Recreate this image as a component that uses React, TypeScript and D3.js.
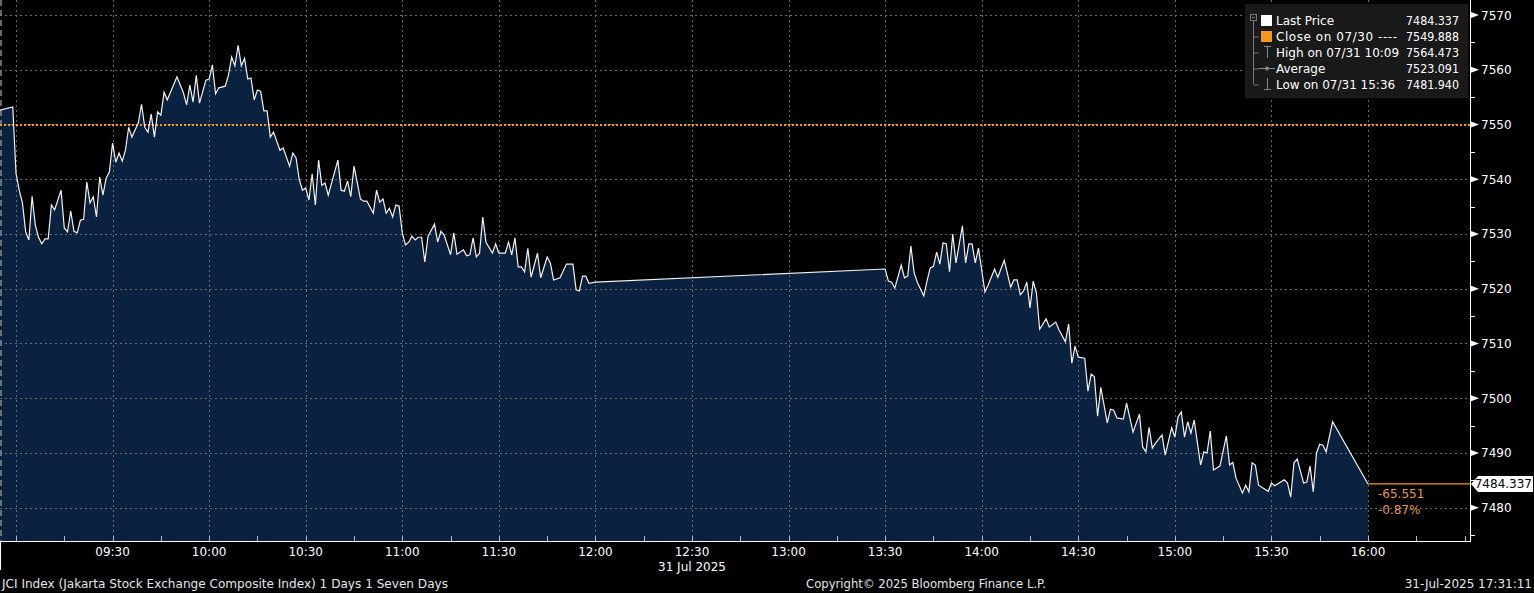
import React from "react";
import * as d3 from "d3";

// ---------- DATA ----------
const morningTimes = [
  "08:55","08:59","09:00","09:01","09:02","09:03","09:04","09:05","09:06","09:07","09:08","09:09","09:10","09:11","09:12","09:14","09:15","09:16","09:17","09:18","09:19","09:20","09:21","09:22","09:23","09:24","09:25","09:26","09:27","09:28","09:29",
  "09:30","09:31","09:32","09:33","09:34","09:35","09:36","09:38","09:39","09:40","09:41","09:42","09:43","09:44","09:45","09:46","09:47","09:50","09:52","09:53","09:54","09:55","09:56","09:57","09:59",
  "10:00","10:01","10:02","10:03","10:05","10:06","10:07","10:08","10:09","10:10","10:11","10:12","10:13","10:14","10:15","10:16","10:17","10:18","10:19","10:20","10:22","10:23","10:25","10:26","10:27","10:28","10:29",
  "10:30","10:31","10:32","10:33","10:34","10:35","10:36","10:37","10:40","10:41","10:42","10:43","10:44","10:45","10:47","10:48","10:49","10:51","10:52","10:53","10:54","10:55","10:56","10:57","10:58","10:59",
  "11:00","11:01","11:02","11:03","11:04","11:05","11:06","11:07","11:08","11:10","11:11","11:12","11:13","11:15","11:16","11:17","11:19","11:20","11:21","11:22","11:23","11:24","11:25","11:26","11:28","11:29",
  "11:30","11:32","11:33","11:34","11:35","11:36","11:37","11:38","11:39","11:40","11:42","11:43","11:45","11:46","11:47","11:49","11:51","11:53","11:54","11:55","11:56","11:57","11:58","12:00",
];
const morningPrices = [
  7552.6,7553.2,7541.1,7538.0,7535.7,7530.4,7528.9,7536.9,7531.6,7529.4,7528.2,7529.1,7529.1,7535.3,7534.4,7538.0,7531.1,7530.4,7534.2,7530.5,7530.2,7532.5,7532.7,7539.5,7535.7,7536.8,7533.1,7540.4,7537.1,7540.2,7541.3,
  7546.6,7543.1,7544.8,7543.3,7545.3,7549.5,7547.7,7550.3,7553.7,7549.5,7548.6,7551.9,7547.7,7552.3,7551.7,7555.9,7554.5,7558.7,7555.8,7553.6,7557.2,7554.1,7559.0,7553.9,7558.1,
  7558.3,7560.9,7555.6,7556.7,7557.0,7559.0,7562.3,7560.7,7564.473,7560.7,7562.1,7558.3,7558.5,7554.5,7556.3,7556.1,7552.5,7552.5,7547.7,7548.6,7545.3,7545.7,7542.4,7544.8,7543.9,7539.9,7538.0,
  7538.4,7536.2,7541.0,7535.3,7543.5,7538.9,7539.3,7537.1,7543.5,7538.0,7537.8,7539.7,7536.8,7542.4,7536.4,7536.0,7536.0,7533.8,7538.0,7535.8,7536.4,7533.8,7534.7,7533.1,7535.3,7535.1,
  7530.2,7528.0,7528.5,7529.6,7528.9,7529.4,7529.4,7524.9,7529.6,7531.8,7528.5,7530.5,7529.8,7526.2,7530.2,7526.3,7527.1,7526.0,7526.2,7529.3,7525.8,7526.5,7533.1,7528.5,7526.5,7528.2,
  7526.5,7526.5,7528.5,7526.2,7529.3,7524.0,7524.0,7523.1,7527.4,7522.1,7526.5,7522.0,7525.8,7524.7,7521.6,7522.0,7524.5,7524.5,7519.8,7519.6,7522.3,7522.3,7521.0,7521.2,
];
const afternoonTimes = [
  "13:30","13:31","13:32","13:33","13:35","13:36","13:37","13:38","13:39","13:40","13:42","13:43","13:44","13:45","13:46","13:47","13:48","13:49","13:50","13:51","13:52","13:54","13:55","13:56","13:57","13:58","13:59",
  "14:01","14:02","14:04","14:05","14:07","14:09","14:10","14:11","14:12","14:13","14:14","14:15","14:16","14:17","14:18","14:20","14:21","14:23","14:24","14:26","14:27","14:28","14:29",
  "14:30","14:32","14:33","14:34","14:35","14:36","14:37","14:39","14:40","14:41","14:42","14:44","14:45","14:47","14:49","14:50","14:51","14:52","14:53","14:54","14:56","14:57","14:59",
  "15:00","15:01","15:02","15:03","15:04","15:05","15:06","15:08","15:09","15:10","15:11","15:12","15:14","15:16","15:17","15:18","15:19","15:21","15:22","15:23","15:24","15:25","15:26","15:29",
  "15:30","15:31","15:34","15:35","15:36","15:37","15:38","15:40","15:41","15:42","15:43","15:44","15:45","15:46","15:47","15:49","16:00",
];
const afternoonPrices = [
  7523.6,7521.4,7521.2,7520.1,7524.3,7522.0,7522.3,7527.8,7522.9,7521.2,7518.7,7521.4,7523.8,7524.1,7526.7,7524.5,7528.4,7528.2,7523.1,7530.0,7524.7,7531.5,7524.7,7528.2,7528.2,7524.7,7527.4,
  7519.4,7520.7,7523.6,7522.1,7525.2,7520.3,7521.6,7521.6,7518.9,7519.6,7521.2,7516.5,7521.4,7519.2,7512.6,7514.5,7513.0,7513.9,7512.5,7510.3,7513.6,7506.4,7509.5,
  7507.5,7507.3,7501.3,7504.4,7503.9,7496.7,7502.0,7495.5,7498.0,7497.8,7496.4,7496.2,7499.1,7493.8,7497.1,7491.1,7490.2,7494.7,7490.9,7491.8,7493.3,7489.6,7494.6,
  7492.9,7496.6,7497.5,7492.9,7495.7,7493.6,7496.0,7487.8,7490.2,7490.0,7494.0,7486.9,7487.6,7493.1,7487.8,7488.3,7485.4,7482.7,7484.1,7482.9,7488.2,7487.8,7484.1,7483.0,
  7484.5,7484.0,7485.1,7484.5,7481.94,7488.2,7488.9,7484.5,7484.7,7487.6,7482.9,7490.0,7491.6,7491.4,7490.2,7495.7,7484.337,
];

const priceTicks = [7480, 7490, 7500, 7510, 7520, 7530, 7540, 7550, 7560, 7570];
const timeLabels = ["09:30","10:00","10:30","11:00","11:30","12:00","12:30","13:00","13:30","14:00","14:30","15:00","15:30","16:00"];
const dateLabel = "31 Jul 2025";
const prevClose = 7549.888;
const lastPrice = 7484.337;
const netChangeText = "-65.551";
const pctChangeText = "-0.87%";
const legendLabels = ["Last Price", "Close on 07/30 ----", "High on 07/31 10:09", "Average", "Low on 07/31 15:36"];
const legendValues = ["7484.337", "7549.888", "7564.473", "7523.091", "7481.940"];
const footerLeft = "JCI Index (Jakarta Stock Exchange Composite Index) 1 Days 1 Seven Days";
const footerCenter = "Copyright\u00A9 2025 Bloomberg Finance L.P.";
const footerRight = "31-Jul-2025 17:31:11";

// ---------- LAYOUT ----------
const W = 1534, H = 593;
const PL = 0, PR = 1470, PT = 0, PB = 541;
const FONT = "'DejaVu Sans', Verdana, sans-serif";
const ORANGE = "#f39a1e";
const AREA = "#0a213f";
const GRID = "#6a6a6a";

const toMin = (t: string) => {
  const [h, m] = t.split(":").map(Number);
  return (h - 9) * 60 + m;
};

export default function App() {
  const data = [
    ...morningTimes.map((t, i) => ({ m: toMin(t), v: morningPrices[i] })),
    ...afternoonTimes.map((t, i) => ({ m: toMin(t), v: afternoonPrices[i] })),
  ];
  const x = d3.scaleLinear().domain([0, 420]).range([16, 1368]);
  const y = d3.scaleLinear().domain([7480, 7570]).range([507.7, 15]);

  const area = d3.area<{ m: number; v: number }>().x((d) => x(d.m)).y0(PB).y1((d) => y(d.v));
  const line = d3.line<{ m: number; v: number }>().x((d) => x(d.m)).y((d) => y(d.v));

  const gridMins = d3.range(0, 421, 30);
  const minorMins = d3.range(0, 451, 15);
  const minorPrices = d3.range(7475, 7575, 5).filter((p) => p % 10 !== 0);

  const yLast = y(lastPrice);
  const xEnd = x(420);

  return (
    <svg
      width={W}
      height={H}
      style={{ position: "absolute", left: 0, top: 0, background: "#000", display: "block" }}
      fontFamily={FONT}
    >
      <rect x={0} y={0} width={W} height={H} fill="#000" />
      <defs>
        <clipPath id="plotclip">
          <rect x={PL} y={PT} width={PR - PL} height={PB - PT} />
        </clipPath>
      </defs>
      <g clipPath="url(#plotclip)">
        <path d={area(data) || ""} fill={AREA} />
        {priceTicks.map((p) => (
          <line key={"h" + p} x1={PL} x2={PR} y1={Math.round(y(p)) + 0.5} y2={Math.round(y(p)) + 0.5} stroke={GRID} strokeDasharray="2,3" />
        ))}
        {gridMins.map((m) => (
          <line key={"v" + m} x1={Math.round(x(m)) + 0.5} x2={Math.round(x(m)) + 0.5} y1={PT} y2={PB} stroke={GRID} strokeDasharray="2,3" />
        ))}
        <line x1={1} x2={1} y1={PT} y2={PB} stroke="#8a8a8a" strokeDasharray="6,4" strokeWidth={1.5} />
        <line x1={PL} x2={PR} y1={y(prevClose)} y2={y(prevClose)} stroke={ORANGE} strokeWidth={2} strokeDasharray="2,2" />
        <path d={line(data) || ""} fill="none" stroke="#f2f2f2" strokeWidth={1.2} strokeLinejoin="miter" />
        <line x1={xEnd} x2={PR} y1={yLast} y2={yLast} stroke={ORANGE} strokeWidth={1.2} />
      </g>
      <text x={1378} y={yLast + 14} fill="#e39a45" fontSize={12}>{netChangeText}</text>
      <text x={1378} y={yLast + 30} fill="#e39a45" fontSize={12}>{pctChangeText}</text>

      {/* right axis */}
      <line x1={PR + 0.5} x2={PR + 0.5} y1={PT} y2={PB} stroke="#fff" />
      {minorPrices.map((p) => (
        <line key={"mt" + p} x1={PR} x2={PR + 5} y1={Math.round(y(p)) + 0.5} y2={Math.round(y(p)) + 0.5} stroke="#fff" />
      ))}
      {priceTicks.map((p) => (
        <g key={"yt" + p}>
          <polygon points={`${PR + 1},${y(p) - 3} ${PR + 9},${y(p)} ${PR + 1},${y(p) + 3}`} fill="#fff" />
          <text x={PR + 11} y={y(p) + 4.5} fill="#fff" fontSize={12}>{p}</text>
        </g>
      ))}
      <polygon
        points={`${PR + 1},${yLast} ${PR + 8},${yLast - 8} ${W - 1},${yLast - 8} ${W - 1},${yLast + 8} ${PR + 8},${yLast + 8}`}
        fill="#fff"
      />
      <text x={W - 2} y={yLast + 4.5} fill="#000" fontSize={12} textAnchor="end">{lastPrice.toFixed(3)}</text>

      {/* bottom axis */}
      <line x1={PL} x2={PR + 1} y1={PB + 0.5} y2={PB + 0.5} stroke="#fff" />
      <line x1={0.5} x2={0.5} y1={PB} y2={570} stroke="#fff" />
      {minorMins.map((m) => (
        <line key={"xt" + m} x1={Math.round(x(m)) + 0.5} x2={Math.round(x(m)) + 0.5} y1={PB - 5} y2={PB} stroke="#bbb" />
      ))}
      {timeLabels.map((t) => (
        <text key={t} x={x(toMin(t))} y={556} fill="#fff" fontSize={12} textAnchor="middle">{t}</text>
      ))}
      <text x={x(toMin("12:30"))} y={571} fill="#fff" fontSize={12} textAnchor="middle">{dateLabel}</text>

      {/* footer */}
      <text x={2} y={588} fill="#e6e6e6" fontSize={12} textLength={446} lengthAdjust="spacingAndGlyphs">{footerLeft}</text>
      <text x={806} y={588} fill="#e6e6e6" fontSize={12} textLength={240} lengthAdjust="spacingAndGlyphs">{footerCenter}</text>
      <text x={1532} y={588} fill="#e6e6e6" fontSize={12} textAnchor="end">{footerRight}</text>

      {/* legend */}
      <g>
        <rect x={1245} y={4} width={223} height={94} fill="#191919" />
        <rect x={1250.5} y={14.5} width={6} height={6} fill="none" stroke="#777" />
        <line x1={1252} x2={1255} y1={17.5} y2={17.5} stroke="#777" />
        <line x1={1253.5} x2={1253.5} y1={21} y2={84} stroke="#777" />
        {legendLabels.map((l, i) => {
          const cy = 20.5 + i * 16;
          return (
            <g key={l}>
              {i > 0 && <line x1={1253.5} x2={1259} y1={cy + 0.5} y2={cy + 0.5} stroke="#777" />}
              {i === 1 ? (
                <text x={1276} y={cy + 4.5} fill="#fff" fontSize={12} textLength={121} lengthAdjust="spacing">{l}</text>
              ) : (
                <text x={1276} y={cy + 4.5} fill="#fff" fontSize={12}>{l}</text>
              )}
              <text x={1459} y={cy + 4.5} fill="#fff" fontSize={12} textAnchor="end" textLength={53} lengthAdjust="spacingAndGlyphs">{legendValues[i]}</text>
            </g>
          );
        })}
        <rect x={1261} y={15} width={11} height={11} fill="#fff" />
        <rect x={1261} y={31} width={11} height={11} fill={ORANGE} />
        <line x1={1264} x2={1271} y1={46.5} y2={46.5} stroke="#888" />
        <line x1={1267.5} x2={1267.5} y1={46} y2={58} stroke="#888" />
        <line x1={1259} x2={1275} y1={68.5} y2={68.5} stroke="#888" />
        <circle cx={1267} cy={68.5} r={2} fill="#888" />
        <line x1={1267.5} x2={1267.5} y1={78} y2={90} stroke="#888" />
        <line x1={1264} x2={1271} y1={89.5} y2={89.5} stroke="#888" />
      </g>
    </svg>
  );
}
